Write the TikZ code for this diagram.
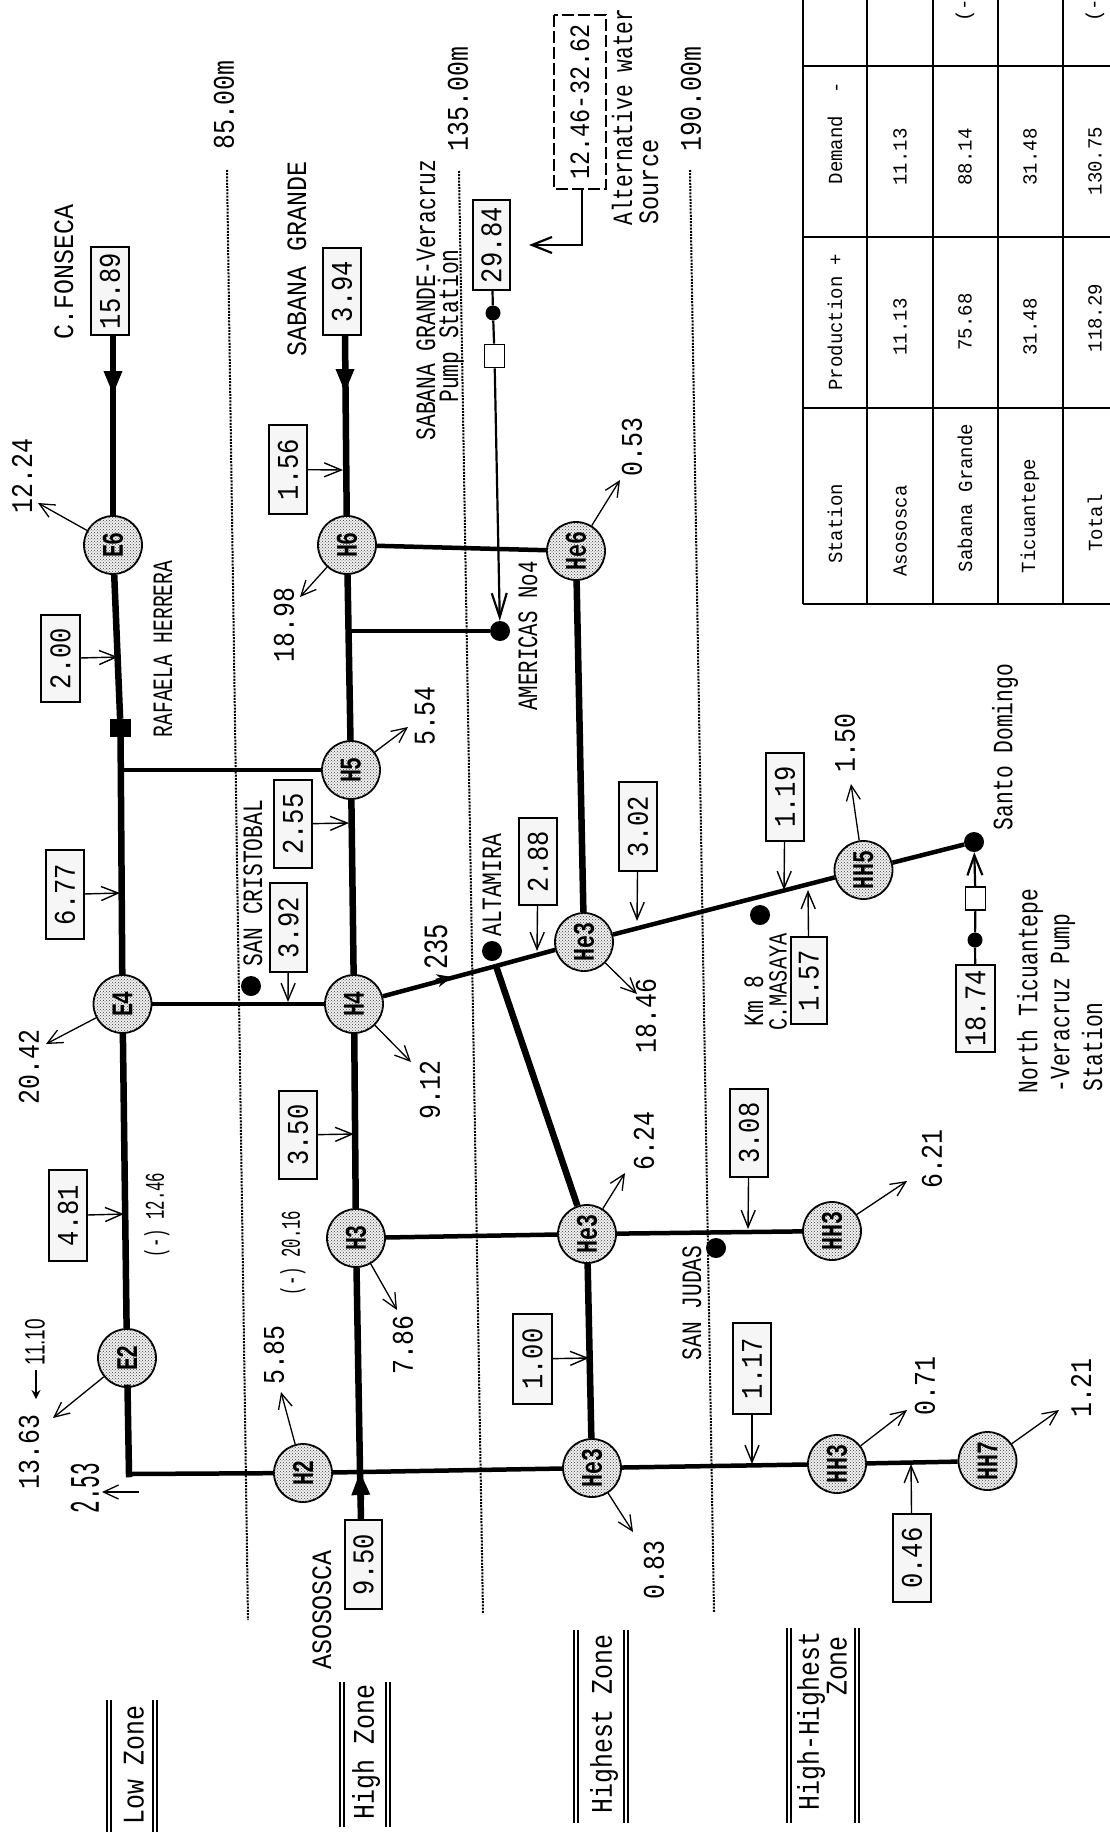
\documentclass[tikz,border=0pt]{standalone}
\usepackage{fontspec}
\usepackage{graphicx}
\setmainfont{Liberation Mono}
\newfontfamily\handfont{Liberation Sans}
\usetikzlibrary{arrows.meta,patterns}
\tikzset{
  txt/.style={rotate=90,inner sep=0pt,anchor=center},
  junction/.style={circle,fill=black,inner sep=0pt,minimum size=20pt},
  smalldot/.style={circle,fill=black,inner sep=0pt,minimum size=15pt},
  station/.style={circle,draw=black,line width=1.8pt,fill=gray!12,inner sep=0pt,minimum size=58pt,rotate=90,
    postaction={pattern=crosshatch dots,pattern color=black!75}},
  flowbox/.style={draw=black,line width=2pt,fill=gray!7,inner sep=0pt,rotate=90},
  pumpbox/.style={draw=black,line width=1.6pt,fill=white,inner sep=0pt,minimum width=20pt,minimum height=23pt},
  thickpipe/.style={line width=6.5pt,black},
  medpipe/.style={line width=4.5pt,black},
  thinpipe/.style={line width=2.2pt,black},
  bighead/.style={-{Triangle[length=24pt,width=17pt]}},
  demand/.style={line width=1.3pt,-{Straight Barb[length=15pt,width=14pt]}},
  feed/.style={line width=1.4pt,-{Straight Barb[length=17pt,width=14pt]}},
  levelline/.style={line width=2pt,dash pattern=on 2pt off 1.2pt,black},
  tableline/.style={line width=1.8pt,black},
  zonerule/.style={line width=1.5pt,black},
}
\newcommand{\tText}[6]{\node[txt] (#1) at (#2,#3) {\scalebox{#4}[1]{\fontsize{#5pt}{#5pt}\selectfont #6}};}
\newcommand{\tNum}[4]{\tText{#1}{#2}{#3}{.83}{30}{#4}}
\newcommand{\tLab}[4]{\tText{#1}{#2}{#3}{.76}{28}{#4}}
\newcommand{\tWide}[4]{\tText{#1}{#2}{#3}{.89}{28}{#4}}
\newcommand{\tCell}[4]{\tText{#1}{#2}{#3}{.95}{20}{#4}}
\newcommand{\tSmall}[4]{\tText{#1}{#2}{#3}{.58}{27}{#4}}
% name, x1,y1,x2,y2, text
\newcommand{\tBox}[6]{%
  \pgfmathsetmacro{\bxw}{abs(#5-#3)}\pgfmathsetmacro{\bxh}{abs(#4-#2)}%
  \node[flowbox,minimum width=\bxw pt,minimum height=\bxh pt] (#1) at ({(#2+#4)/2},{(#3+#5)/2})
    {\scalebox{.85}[1]{\fontsize{30pt}{30pt}\selectfont #6}};}
\newcommand{\tStation}[4]{\node[station] (#1) at (#2,#3) {\scalebox{.72}[1]{\fontsize{30pt}{30pt}\selectfont\bfseries #4}};}
\begin{document}
\begin{tikzpicture}[x=1pt,y=-1pt]
\useasboundingbox (0,0) rectangle (1110,1836);
\fill[white] (0,0) rectangle (1110,1836);

% level lines
\coordinate (lvlAa) at (227,170); \coordinate (lvlAb) at (248,1620);
\coordinate (lvlBa) at (459,171); \coordinate (lvlBb) at (483,1614);
\coordinate (lvlCa) at (690,170); \coordinate (lvlCb) at (714,1612);
\draw[levelline] (lvlAa) -- (lvlAb);
\draw[levelline] (lvlBa) -- (lvlBb);
\draw[levelline] (lvlCa) -- (lvlCb);
\tNum{lvlAt}{224}{105}{85.00m}
\tNum{lvlBt}{458}{99}{135.00m}
\tNum{lvlCt}{691}{99}{190.00m}

% stations
\tStation{E6}{113}{545}{E6}
\tStation{E4}{122.5}{1004}{E4}
\tStation{E2}{127}{1358}{E2}
\tStation{H6}{347}{545}{H6}
\tStation{H5}{351}{770}{H5}
\tStation{H4}{354}{1004}{H4}
\tStation{H3}{356}{1238}{H3}
\tStation{H2}{303}{1473}{H2}
\tStation{HeSix}{576}{551}{He6}
\tStation{HeFive}{584}{942}{He3}
\tStation{HeA}{587}{1234}{He3}
\tStation{HeB}{592}{1468}{He3}
\tStation{HHfive}{863.5}{870}{HH5}
\tStation{HHa}{832}{1231}{HH3}
\tStation{HHb}{837}{1464}{HH3}
\tStation{HHseven}{987.5}{1461}{HH7}

% flow boxes
\tBox{bFonseca}{91}{247}{129}{335}{15.89}
\tBox{bSabana}{323}{248}{361}{335}{3.94}
\tBox{bA}{269}{425}{307}{514}{1.56}
\tBox{bB}{41}{615}{80}{702}{2.00}
\tBox{bC}{46}{850}{84}{939}{6.77}
\tBox{bD}{49}{1170}{87}{1261}{4.81}
\tBox{bE}{270}{883}{307}{972}{3.92}
\tBox{bF}{274}{780}{312}{868}{2.55}
\tBox{bG}{279}{1091}{317}{1179}{3.50}
\tBox{bH}{519}{818}{557}{905}{2.88}
\tBox{bI}{619}{782}{657}{871}{3.02}
\tBox{bJ}{766}{753}{804}{841}{1.19}
\tBox{bK}{791}{937}{827}{1024}{1.57}
\tBox{bL}{956}{965}{995}{1052}{18.74}
\tBox{bM}{730}{1089}{768}{1177}{3.08}
\tBox{bN}{733}{1323}{771}{1414}{1.17}
\tBox{bO}{893}{1514}{931}{1602}{0.46}
\tBox{bP}{513}{1314}{552}{1404}{1.00}
\tBox{bAso}{345}{1520}{382}{1609}{9.50}
\tBox{bPump}{473}{200}{510}{290}{29.84}
\node[draw=black,line width=2pt,dash pattern=on 12pt off 4pt,inner sep=0pt,minimum width=174pt,minimum height=52pt,rotate=90] (bAlt) at (580,102)
  {\scalebox{.84}[1]{\fontsize{28pt}{28pt}\selectfont 12.46-32.62}};

% small symbols
\node[pumpbox] (pumpS) at (494.5,356) {};
\node[pumpbox] (pumpN) at (975.5,898.5) {};
\node[smalldot] (dotS) at (493,313) {};
\node[smalldot] (dotN) at (975,940) {};
\node[junction] (dAmer) at (500,631) {};
\node[junction] (dCris) at (251,986) {};
\node[junction] (dAlta) at (492,951) {};
\node[junction] (dKm) at (760,915) {};
\node[junction] (dSanto) at (974,842) {};
\node[junction] (dJudas) at (716,1248) {};
\node[fill=black,inner sep=0pt,minimum width=21pt,minimum height=18pt] (rafaela) at (120.5,728) {};

% junctions
\coordinate (sFon) at (113,335);
\coordinate (hFon) at (113,365);
\coordinate (jFon) at (113,395);
\coordinate (sSab) at (345,335);
\coordinate (hSab) at (345,365);
\coordinate (jSab) at (345,393);
\coordinate (jLow) at (120,770);
\coordinate (jAmer) at (348.5,631);
\coordinate (jAlta) at (496,966);
\coordinate (jCorner) at (129,1474);
\coordinate (jAso) at (360,1471);
\coordinate (sAso) at (361,1520);
\coordinate (hAso) at (361,1500);
\coordinate (hTip) at (436,981);
\coordinate (jTip) at (452,977);

% thick pipes
\draw[thickpipe] (sFon) -- (E6);
\draw[thickpipe,bighead] (hFon) -- (jFon);
\draw[thickpipe] (E6) -- (rafaela);
\draw[thickpipe] (rafaela) -- (E4);
\draw[thickpipe] (E4) -- (E2);
\draw[thickpipe,line cap=rect] (E2) -- (jCorner);
\draw[medpipe] (jCorner) -- (H2);
\draw[thickpipe] (sSab) -- (H6);
\draw[thickpipe,bighead] (hSab) -- (jSab);
\draw[thickpipe] (H6) -- (H5);
\draw[thickpipe] (H5) -- (H4);
\draw[thickpipe] (H4) -- (H3);
\draw[thickpipe] (H3) -- (jAso);
\draw[thickpipe] (sAso) -- (jAso);
\draw[thickpipe,bighead] (hAso) -- (jAso);
\draw[medpipe] (jLow) -- (H5);
\draw[medpipe] (H6) -- (HeSix);
\draw[medpipe] (jAmer) -- (dAmer);
\draw[thickpipe] (HeSix) -- (HeFive);
\draw[medpipe] (E4) -- (H4);
\draw[medpipe] (H4) -- (jAlta);
\draw[medpipe,-{Stealth[length=15pt,width=13pt]}] (hTip) -- (jTip);
\draw[medpipe] (jAlta) -- (HeFive);
\draw[thickpipe] (jAlta) -- (HeA);
\draw[medpipe] (HeFive) -- (HHfive);
\draw[medpipe] (HHfive) -- (dSanto);
\draw[medpipe] (H3) -- (HeA);
\draw[medpipe] (HeA) -- (HHa);
\draw[thickpipe] (HeA) -- (HeB);
\draw[medpipe] (H2) -- (HeB);
\draw[medpipe] (HeB) -- (HHb);
\draw[medpipe] (HHb) -- (HHseven);
\draw[thinpipe] (bPump) -- (dotS);
\draw[thinpipe] (dotS) -- (pumpS);
\draw[thinpipe,-{Straight Barb[length=24pt,width=15pt]}] (pumpS) -- (dAmer);
\draw[thinpipe] (bL) -- (dotN);
\draw[thinpipe] (dotN) -- (pumpN);
\draw[thinpipe,-{Straight Barb[length=20pt,width=15pt]}] (pumpN) -- (dSanto);

% alternative source elbow
\coordinate (altFoot) at (582,189);
\coordinate (altBend) at (582,245);
\coordinate (altTip) at (529,245);
\draw[thinpipe,-{Straight Barb[length=20pt,width=16pt]}] (altFoot) -- (altBend) -- (altTip);

% feed arrows from boxes
\coordinate (tA) at (343,470);
\coordinate (tB) at (118,657);
\coordinate (tC) at (120,893);
\coordinate (tD) at (124,1214);
\coordinate (tE) at (288,1002);
\coordinate (tF) at (349,823);
\coordinate (tG) at (354,1134);
\coordinate (tH) at (537,951);
\coordinate (tI) at (637,921);
\coordinate (tJ) at (784,890);
\coordinate (tK) at (808,890);
\coordinate (tM) at (748,1229);
\coordinate (tN) at (752,1464);
\coordinate (tO) at (911,1464);
\coordinate (tP) at (589,1358);
\draw[feed] (bA) -- (tA);
\draw[feed] (bB) -- (tB);
\draw[feed] (bC) -- (tC);
\draw[feed] (bD) -- (tD);
\draw[feed] (bE) -- (tE);
\draw[feed] (bF) -- (tF);
\draw[feed] (bG) -- (tG);
\draw[feed] (bH) -- (tH);
\draw[feed] (bI) -- (tI);
\draw[feed] (bJ) -- (tJ);
\draw[feed] (bK) -- (tK);
\draw[feed] (bM) -- (tM);
\draw[feed] (bN) -- (tN);
\draw[feed] (bO) -- (tO);
\draw[feed] (bP) -- (tP);

% demand arrows
\coordinate (dmE6) at (38,503);
\coordinate (dmE4) at (46,1044);
\coordinate (dmE2) at (53,1418);
\coordinate (dmH2) at (281,1392);
\coordinate (dmH3) at (397,1310);
\coordinate (dmH4) at (411,1062);
\coordinate (dmH5) at (408,727);
\coordinate (dmH6) at (300,597);
\coordinate (dmHeSix) at (620,480);
\coordinate (dmHeA) at (625,1173);
\coordinate (dmHeFive) at (637,994);
\coordinate (dmHeB) at (633,1532);
\coordinate (dmHHfive) at (851,784);
\coordinate (dmHHa) at (907,1181);
\coordinate (dmHHb) at (907,1410);
\coordinate (dmHHseven) at (1059,1410);
\draw[demand] (E6) -- (dmE6);
\draw[demand] (E4) -- (dmE4);
\draw[demand] (E2) -- (dmE2);
\draw[demand] (H2) -- (dmH2);
\draw[demand] (H3) -- (dmH3);
\draw[demand] (H4) -- (dmH4);
\draw[demand] (H5) -- (dmH5);
\draw[demand] (H6) -- (dmH6);
\draw[demand] (HeSix) -- (dmHeSix);
\draw[demand] (HeA) -- (dmHeA);
\draw[demand] (HeFive) -- (dmHeFive);
\draw[demand] (HeB) -- (dmHeB);
\draw[demand] (HHfive) -- (dmHHfive);
\draw[demand] (HHa) -- (dmHHa);
\draw[demand] (HHb) -- (dmHHb);
\draw[demand] (HHseven) -- (dmHHseven);

% handwritten notes
\tText{hand253}{85}{1488}{.5}{42}{2.53}
\coordinate (h253a) at (139,1492); \coordinate (h253b) at (102,1492);
\draw[demand] (h253a) -- (h253b);
\node[txt] (hand1110) at (35,1342) {\scalebox{.68}[1]{\fontsize{28pt}{28pt}\handfont 11.10}};
\coordinate (h1110a) at (36,1370); \coordinate (h1110b) at (36,1399);
\draw[line width=2.4pt,-{Stealth[length=9pt,width=9pt]}] (h1110a) -- (h1110b);
\tText{hand235}{436}{947}{.75}{34}{235}

% demand numbers
\tNum{n1224}{22}{476}{12.24}
\tNum{n2042}{29}{1067}{20.42}
\tNum{n1363}{29}{1452}{13.63}
\tNum{n585}{274}{1355}{5.85}
\tNum{n786}{403}{1345}{7.86}
\tNum{n912}{430}{1090}{9.12}
\tNum{n554}{425}{716}{5.54}
\tNum{n1898}{284}{625}{18.98}
\tNum{n053}{632}{447}{0.53}
\tNum{n624}{644}{1141}{6.24}
\tNum{n1846}{646}{1016}{18.46}
\tNum{n150}{845}{743}{1.50}
\tNum{n621}{932}{1159}{6.21}
\tNum{n071}{925}{1386}{0.71}
\tNum{n121}{1081}{1388}{1.21}
\tNum{n083}{654}{1570}{0.83}
\tSmall{sA}{157}{1215}{(-) 12.46}
\tSmall{sB}{293}{1253}{(-) 20.16}

% place names
\tWide{lFon}{64}{272}{C.FONSECA}
\tWide{lSab}{297}{259}{SABANA GRANDE}
\tWide{lAso}{322}{1610}{ASOSOSCA}
\tText{lRaf}{163}{649}{.70}{28}{RAFAELA HERRERA}
\tText{lAmer}{528}{636}{.74}{28}{AMERICAS No4}
\tLab{lCris}{253}{883}{SAN CRISTOBAL}
\tLab{lAlta}{492}{885}{ALTAMIRA}
\tLab{lJudas}{692}{1303}{SAN JUDAS}
\tLab{lKm}{754}{1001}{Km 8}
\tText{lMas}{778}{982}{.78}{26}{C.MASAYA}
\tLab{lSanto}{1005}{747}{Santo Domingo}
\tLab{lNa}{1030}{991}{North Ticuantepe}
\tLab{lNb}{1063}{1003}{-Veracruz Pump}
\tLab{lNc}{1092}{1047}{Station}
\tLab{lSa}{426}{300}{SABANA GRANDE-Veracruz}
\tLab{lSb}{451}{326}{Pump Station}
\tLab{lWa}{622}{117}{Alternative water}
\tText{lWb}{649}{182}{.84}{28}{Source}

% zones
\tNum{zLow}{134}{1765}{Low Zone}
\tNum{zHigh}{366}{1752}{High Zone}
\tNum{zHighest}{604}{1724}{Highest Zone}
\tNum{zHHa}{811}{1721}{High-Highest}
\tNum{zHHb}{837}{1666}{Zone}
\coordinate (zA1) at (107,1700); \coordinate (zA2) at (107,1832);
\coordinate (zB1) at (111,1700); \coordinate (zB2) at (111,1832);
\coordinate (zC1) at (153,1700); \coordinate (zC2) at (153,1832);
\coordinate (zD1) at (157,1700); \coordinate (zD2) at (157,1832);
\draw[zonerule] (zA1) -- (zA2); \draw[zonerule] (zB1) -- (zB2);
\draw[zonerule] (zC1) -- (zC2); \draw[zonerule] (zD1) -- (zD2);
\coordinate (zE1) at (340,1682); \coordinate (zE2) at (340,1827);
\coordinate (zF1) at (344,1682); \coordinate (zF2) at (344,1827);
\coordinate (zG1) at (386,1682); \coordinate (zG2) at (386,1827);
\coordinate (zH1) at (390,1682); \coordinate (zH2) at (390,1827);
\draw[zonerule] (zE1) -- (zE2); \draw[zonerule] (zF1) -- (zF2);
\draw[zonerule] (zG1) -- (zG2); \draw[zonerule] (zH1) -- (zH2);
\coordinate (zI1) at (574,1630); \coordinate (zI2) at (574,1823);
\coordinate (zJ1) at (578,1630); \coordinate (zJ2) at (578,1823);
\coordinate (zK1) at (624,1630); \coordinate (zK2) at (624,1823);
\coordinate (zL1) at (628,1630); \coordinate (zL2) at (628,1823);
\draw[zonerule] (zI1) -- (zI2); \draw[zonerule] (zJ1) -- (zJ2);
\draw[zonerule] (zK1) -- (zK2); \draw[zonerule] (zL1) -- (zL2);
\coordinate (zM1) at (787,1628); \coordinate (zM2) at (787,1823);
\coordinate (zN1) at (791,1628); \coordinate (zN2) at (791,1823);
\coordinate (zO1) at (855,1628); \coordinate (zO2) at (855,1823);
\coordinate (zP1) at (859,1628); \coordinate (zP2) at (859,1823);
\draw[zonerule] (zM1) -- (zM2); \draw[zonerule] (zN1) -- (zN2);
\draw[zonerule] (zO1) -- (zO2); \draw[zonerule] (zP1) -- (zP2);

% table
\foreach \tx in {803,867,933,998,1063} \draw[tableline] (\tx,0) -- (\tx,604);
\foreach \ty in {66,237,408,604} \draw[tableline] (803,\ty) -- (1110,\ty);
\tCell{cSt}{835}{524}{Station}
\tCell{cPr}{835}{322}{Production +}
\tCell{cDe}{835}{133}{Demand \ -}
\tCell{cAs}{900}{531}{Asososca}
\tCell{cAp}{900}{327}{11.13}
\tCell{cAd}{900}{157}{11.13}
\tCell{cSa}{965}{498}{Sabana Grande}
\tCell{cSp}{965}{322}{75.68}
\tCell{cSd}{965}{157}{88.14}
\tCell{cTi}{1030}{516}{Ticuantepe}
\tCell{cTp}{1030}{327}{31.48}
\tCell{cTd}{1030}{157}{31.48}
\tCell{cTo}{1095}{523}{Total}
\tCell{cOp}{1095}{318}{118.29}
\tCell{cOd}{1095}{161}{130.75}
\tCell{cX}{965}{10}{(-}
\tCell{cY}{1095}{10}{(-}
\end{tikzpicture}
\end{document}
